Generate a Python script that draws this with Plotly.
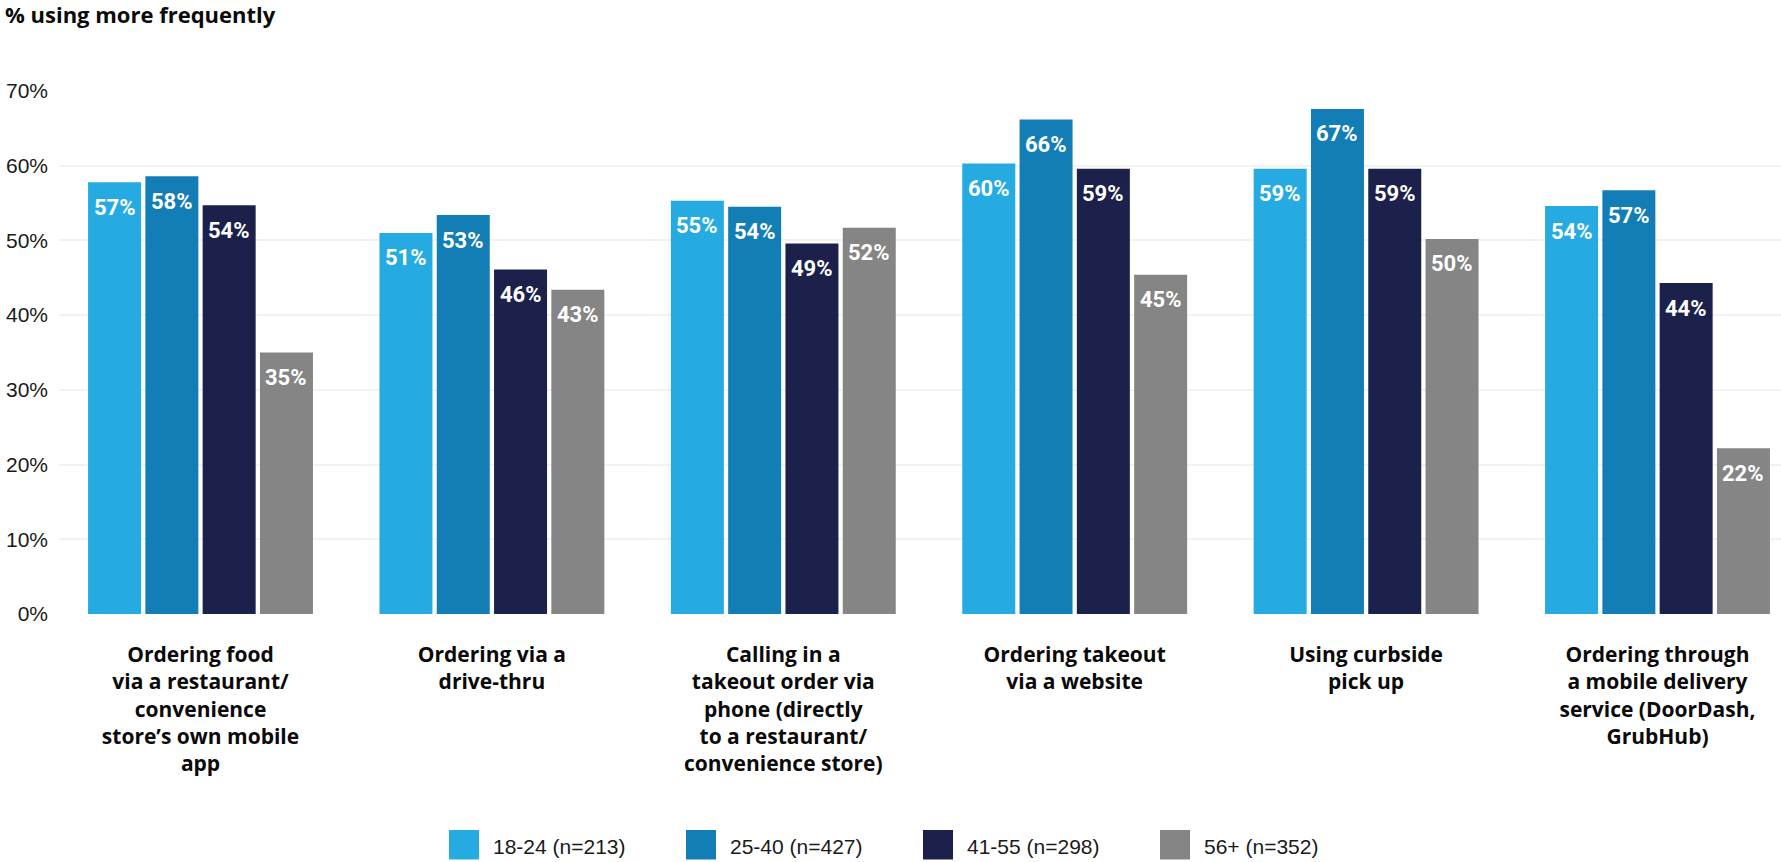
import plotly.graph_objects as go

# ---------------- data ----------------
categories = [
    "Ordering food<br>via a restaurant/<br>convenience<br>store’s own mobile<br>app",
    "Ordering via a<br>drive-thru",
    "Calling in a<br>takeout order via<br>phone (directly<br>to a restaurant/<br>convenience store)",
    "Ordering takeout<br>via a website",
    "Using curbside<br>pick up",
    "Ordering through<br>a mobile delivery<br>service (DoorDash,<br>GrubHub)",
]
series_names = ["18-24 (n=213)", "25-40 (n=427)", "41-55 (n=298)", "56+ (n=352)"]

values_18_24 = [57.8, 51.0, 55.3, 60.3, 59.6, 54.6]
values_25_40 = [58.6, 53.4, 54.5, 66.2, 67.6, 56.7]
values_41_55 = [54.7, 46.1, 49.6, 59.6, 59.6, 44.3]
values_56_plus = [35.0, 43.4, 51.7, 45.4, 50.2, 22.2]

labels_18_24 = ["57%", "51%", "55%", "60%", "59%", "54%"]
labels_25_40 = ["58%", "53%", "54%", "66%", "67%", "57%"]
labels_41_55 = ["54%", "46%", "49%", "59%", "59%", "44%"]
labels_56_plus = ["35%", "43%", "52%", "45%", "50%", "22%"]

y_ticks = [0, 10, 20, 30, 40, 50, 60, 70]
y_tick_labels = ["0%", "10%", "20%", "30%", "40%", "50%", "60%", "70%"]
title_text = "% using more frequently"

# ---------------- styling ----------------
colors = ["#25ABE2", "#137EB5", "#1B214B", "#858585"]
W, H = 1781, 862
M_L, M_R, M_T, M_B = 59, 0, 91, 248
PW, PH = W - M_L - M_R, H - M_T - M_B
X_RANGE = [-0.4856, 5.4238]
BARGAP = 0.2135
BARGROUPGAP = 0.075

def px_x(px):
    return (px - M_L) / PW

def px_y(py):
    return (H - M_B - py) / PH

all_values = [values_18_24, values_25_40, values_41_55, values_56_plus]
all_labels = [labels_18_24, labels_25_40, labels_41_55, labels_56_plus]
n_series = len(all_values)

unit_px = PW / (X_RANGE[1] - X_RANGE[0])
slot_px = unit_px * (1 - BARGAP) / n_series

fig = go.Figure()
annotations = []
for i, (name, vals, labs, col) in enumerate(zip(series_names, all_values, all_labels, colors)):
    fig.add_trace(go.Bar(
        x=categories, y=vals, name=name,
        marker=dict(color=col, line=dict(width=0)),
        showlegend=False,
        hoverinfo="skip",
    ))
    # value labels inside the top of each bar
    for cat, v, lab in zip(categories, vals, labs):
        annotations.append(dict(
            x=cat, y=v, xref="x", yref="y",
            xshift=(i - (n_series - 1) / 2) * slot_px, yshift=-25,
            xanchor="center", yanchor="middle", showarrow=False,
            text="<b>" + lab + "</b>",
            font=dict(family="Roboto", size=22, color="white"),
        ))

# manual legend (large square swatches)
shapes = []
legend_x0 = 449
legend_step = 237
for i, (name, col) in enumerate(zip(series_names, colors)):
    x0 = legend_x0 + i * legend_step
    shapes.append(dict(type="rect", xref="paper", yref="paper",
                       x0=px_x(x0), x1=px_x(x0 + 30),
                       y0=px_y(830), y1=px_y(859.5),
                       fillcolor=col, line=dict(width=0)))
    annotations.append(dict(xref="paper", yref="paper",
                            x=px_x(x0 + 42), y=px_y(846), xanchor="left", yanchor="middle",
                            text=name, showarrow=False,
                            font=dict(family="Liberation Sans", size=21, color="#1a1a1a")))

fig.update_layout(
    width=W, height=H,
    margin=dict(l=M_L, r=M_R, t=M_T, b=M_B, autoexpand=False),
    paper_bgcolor="white", plot_bgcolor="white",
    barmode="group", bargap=BARGAP, bargroupgap=BARGROUPGAP,
    title=dict(text="<b>" + title_text + "</b>", xref="container", yref="container",
               x=5 / W, xanchor="left", y=1 - 15 / H, yanchor="middle",
               font=dict(family="Open Sans", size=22, color="#0a0a0a")),
    xaxis=dict(range=X_RANGE, showgrid=False, zeroline=False, showline=False,
               ticks="", ticklabelstandoff=26,
               tickfont=dict(family="Open Sans", size=21, color="#0a0a0a", weight="bold")),
    yaxis=dict(range=[0, 70], tickvals=y_ticks, ticktext=y_tick_labels,
               showgrid=True, gridcolor="#f2f2f2", gridwidth=2,
               zeroline=False, showline=False, ticks="", ticklabelstandoff=10,
               tickfont=dict(family="Liberation Sans", size=21, color="#1a1a1a")),
    shapes=shapes, annotations=annotations,
    showlegend=False,
)

fig.write_html("out.html", config={"displayModeBar": False},
               post_script="document.body.style.margin='0px';document.body.style.overflow='hidden';")
